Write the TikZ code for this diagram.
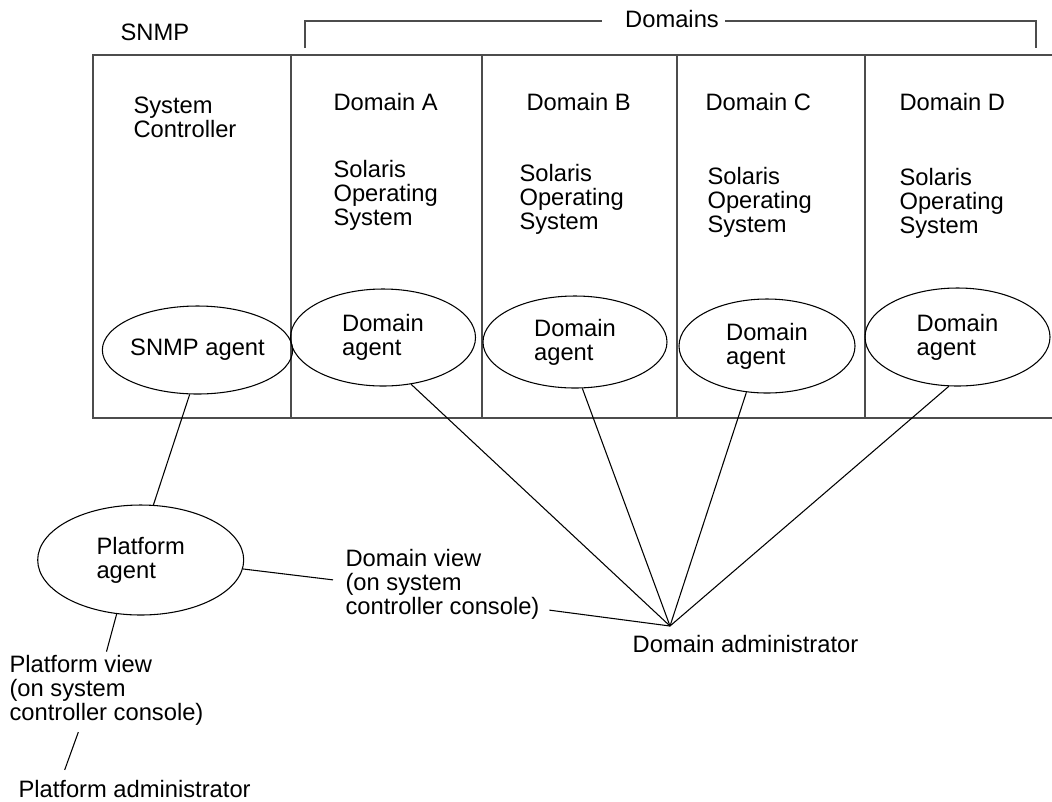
\documentclass[tikz,border=0pt]{standalone}
\usepackage{fontspec}
\setmainfont{Liberation Sans}
\usetikzlibrary{shapes.geometric}

\tikzset{
  agent/.style = {draw, ellipse, inner sep=0pt, align=left},
  txt/.style   = {anchor=base west, inner sep=0pt, align=left},
  frame/.style = {draw=black!70, line width=0.9pt},
}

\begin{document}
\begin{tikzpicture}[x=0.75pt, y=-0.75pt, line width=0.8pt,
  every node/.style={font=\fontsize{17.8}{18}\selectfont}]
\useasboundingbox (0,0) rectangle (1052,801);
%%
%% rack (open to the right)
\draw [frame] (1052,55) -- (93,55) -- (93,418) -- (1052,418);
\foreach \xd in {291,482,677,865}
  \draw [frame] (\xd,55) -- (\xd,418);
%% bracket over the domains
\node [anchor=base] (doms) at (672,27) {Domains};
\draw [frame] (305,48) -- (305,21) -- (602,21);
\draw [frame] (725,21) -- (1036,21) -- (1036,48);
\node [txt] (snmplbl) at (120,40) {SNMP};
%%
%% column heads (base = last line)
\node [txt] (sysc) at (133,137) {System\\Controller};
\node [txt] (hA) at (333,110) {Domain A};
\node [txt] (hB) at (526,110) {Domain B};
\node [txt] (hC) at (705,110) {Domain C};
\node [txt] (hD) at (899,110) {Domain D};
\node [txt] (osA) at (333,225) {Solaris\\Operating\\System};
\node [txt] (osB) at (519,229) {Solaris\\Operating\\System};
\node [txt] (osC) at (707,232) {Solaris\\Operating\\System};
\node [txt] (osD) at (899,233) {Solaris\\Operating\\System};
%%
%% agents
\node [agent, minimum width=124.5pt, minimum height=66pt]   (snmp) at (197.5,350) {SNMP agent};
\node [agent, minimum width=138.75pt, minimum height=72.75pt] (agA) at (383,337.5) {Domain\\agent};
\node [agent, minimum width=138pt, minimum height=69pt]     (agB) at (575,342) {Domain\\agent};
\node [agent, minimum width=132pt, minimum height=70.5pt]   (agC) at (767,346) {Domain\\agent};
\node [agent, minimum width=138.75pt, minimum height=73.5pt] (agD) at (957.5,337) {Domain\\agent};
\node [agent, minimum width=154.5pt, minimum height=82.5pt] (plat) at (140.7,560) {Platform\\agent};
%%
%% consoles and administrators
\node [txt] (dview) at (345,614) {Domain view\\(on system\\controller console)};
\node [txt] (pview) at (9,720) {Platform view\\(on system\\controller console)};
\node [txt] (padm) at (18,797) {Platform administrator};
\node [anchor=base] (dadm) at (745.5,652) {Domain administrator};
\coordinate (adm) at (670,626);
%%
%% connectors
\draw (snmp.-100) -- (plat.77);
\draw (plat.-5) -- ([xshift=-9pt, yshift=3pt]dview.west);
\draw ([xshift=7pt, yshift=7pt]dview.south east) -- (adm);
\draw (plat.-114) -- ([yshift=2pt]pview.north);
\draw ([xshift=52pt, yshift=-5pt]pview.south west) -- ([xshift=35pt, yshift=7pt]padm.north west);
\draw (agA.-59) -- (adm);
\draw (agB.-81) -- (adm);
\draw (agC.-114) -- (adm);
\draw (agD.-100) -- (adm);
%%
\end{tikzpicture}
\end{document}
